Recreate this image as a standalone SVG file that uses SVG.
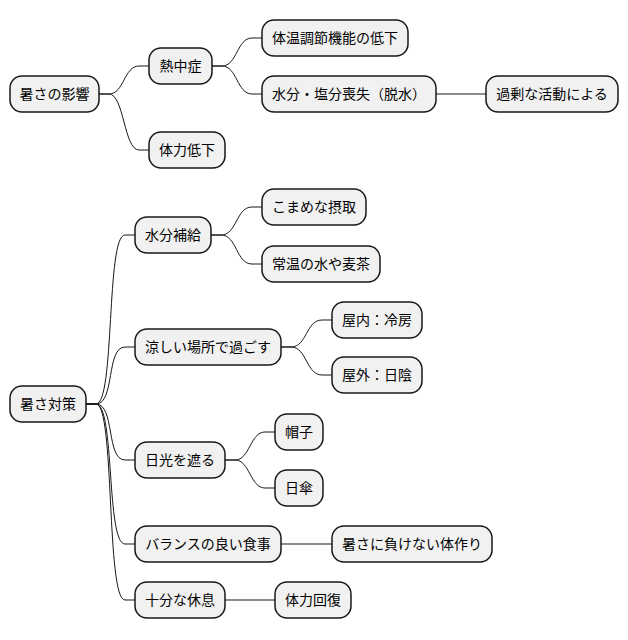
<svg xmlns="http://www.w3.org/2000/svg" width="628" height="640" viewBox="0 0 628 640">
<style>
.n rect{fill:#F1F1F1;stroke:#181818;stroke-width:1.5}
.n text{font-family:"Noto Sans CJK JP","Noto Sans",sans-serif;font-size:14px;fill:#000;text-anchor:middle}
#edges path{fill:none;stroke:#181818;stroke-width:1}
</style>
<rect width="628" height="640" fill="#FFFFFF"/>
<g id="edges">
<path d="M99,94 L109,94 C124,94 124,66 139,66 L149,66"/>
<path d="M99,94 L109,94 C124,94 124,150 139,150 L149,150"/>
<path d="M212,66 L222,66 C237,66 237,38 252,38 L262,38"/>
<path d="M212,66 L222,66 C237,66 237,94 252,94 L262,94"/>
<path d="M436,94 L486,94"/>
<path d="M86,404 L96,404 C115,404 106,235 125,235 L135,235"/>
<path d="M86,404 L96,404 C115,404 106,347 125,347 L135,347"/>
<path d="M86,404 L96,404 C115,404 106,460 125,460 L135,460"/>
<path d="M86,404 L96,404 C115,404 106,544 125,544 L135,544"/>
<path d="M86,404 L96,404 C115,404 106,600 125,600 L135,600"/>
<path d="M211,235 L221,235 C237,235 236,207 252,207 L262,207"/>
<path d="M211,235 L221,235 C237,235 236,264 252,264 L262,264"/>
<path d="M281,347 L291,347 C307,347 306,320 322,320 L332,320"/>
<path d="M281,347 L291,347 C307,347 306,375 322,375 L332,375"/>
<path d="M225,460 L235,460 C250,460 250,432 265,432 L275,432"/>
<path d="M225,460 L235,460 C250,460 250,488 265,488 L275,488"/>
<path d="M281,544 L332,544"/>
<path d="M225,600 L275,600"/>
</g>
<g id="n1" class="n"><rect x="10" y="76" width="89" height="36" rx="12"/><text x="54.5" y="99">暑さの影響</text></g>
<g id="n2" class="n"><rect x="149" y="48" width="63" height="36" rx="12"/><text x="180.5" y="71">熱中症</text></g>
<g id="n3" class="n"><rect x="262" y="20" width="146" height="36" rx="12"/><text x="335" y="43">体温調節機能の低下</text></g>
<g id="n4" class="n"><rect x="262" y="76" width="174" height="36" rx="12"/><text x="349" y="99">水分・塩分喪失（脱水）</text></g>
<g id="n5" class="n"><rect x="486" y="76" width="132" height="36" rx="12"/><text x="552" y="99">過剰な活動による</text></g>
<g id="n6" class="n"><rect x="149" y="132" width="76" height="36" rx="12"/><text x="187" y="155">体力低下</text></g>
<g id="n7" class="n"><rect x="10" y="386" width="76" height="36" rx="12"/><text x="48" y="409">暑さ対策</text></g>
<g id="n8" class="n"><rect x="135" y="217" width="76" height="36" rx="12"/><text x="173" y="240">水分補給</text></g>
<g id="n9" class="n"><rect x="262" y="189" width="104" height="36" rx="12"/><text x="314" y="212">こまめな摂取</text></g>
<g id="n10" class="n"><rect x="262" y="246" width="118" height="36" rx="12"/><text x="321" y="269">常温の水や麦茶</text></g>
<g id="n11" class="n"><rect x="135" y="329" width="146" height="36" rx="12"/><text x="208" y="352">涼しい場所で過ごす</text></g>
<g id="n12" class="n"><rect x="332" y="302" width="90" height="36" rx="12"/><text x="377" y="325">屋内：冷房</text></g>
<g id="n13" class="n"><rect x="332" y="357" width="90" height="36" rx="12"/><text x="377" y="380">屋外：日陰</text></g>
<g id="n14" class="n"><rect x="135" y="442" width="90" height="36" rx="12"/><text x="180" y="465">日光を遮る</text></g>
<g id="n15" class="n"><rect x="275" y="414" width="48" height="36" rx="12"/><text x="299" y="437">帽子</text></g>
<g id="n16" class="n"><rect x="275" y="470" width="48" height="36" rx="12"/><text x="299" y="493">日傘</text></g>
<g id="n17" class="n"><rect x="135" y="526" width="146" height="36" rx="12"/><text x="208" y="549">バランスの良い食事</text></g>
<g id="n18" class="n"><rect x="332" y="526" width="160" height="36" rx="12"/><text x="412" y="549">暑さに負けない体作り</text></g>
<g id="n19" class="n"><rect x="135" y="582" width="90" height="36" rx="12"/><text x="180" y="605">十分な休息</text></g>
<g id="n20" class="n"><rect x="275" y="582" width="76" height="36" rx="12"/><text x="313" y="605">体力回復</text></g>
</svg>
